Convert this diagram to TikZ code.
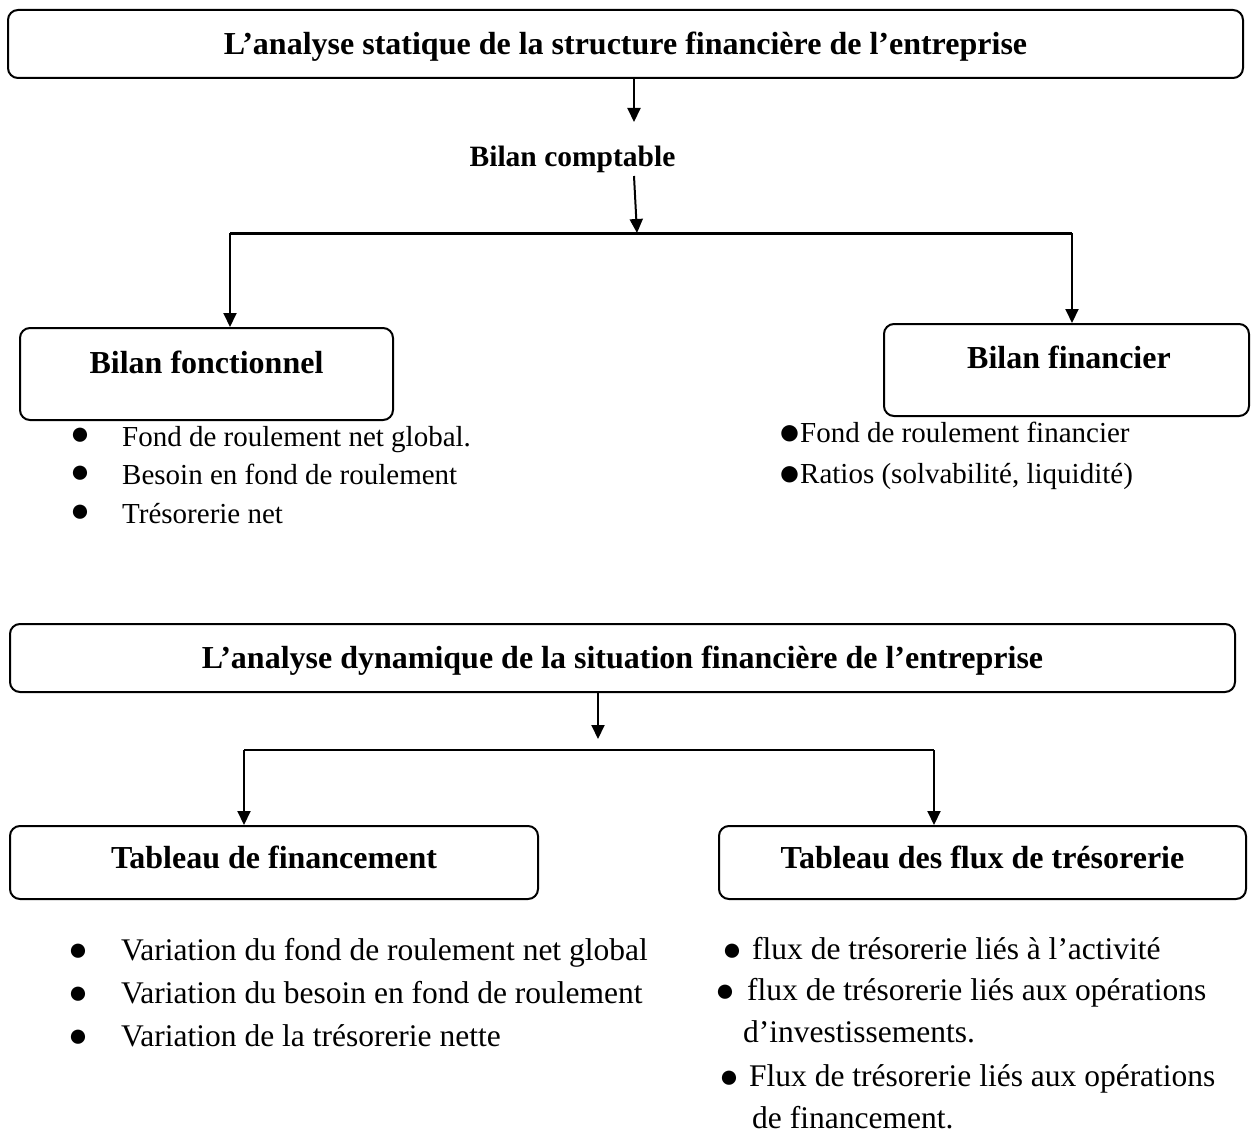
\documentclass[tikz,border=0pt]{standalone}
\usepackage{fontspec}
\setmainfont{Liberation Serif}
\usetikzlibrary{arrows.meta}
\newcommand\hdfont{\fontsize{32}{38}\selectfont\bfseries}
\newcommand\bcfont{\fontsize{29.5}{35}\selectfont\bfseries}
\newcommand\smfont{\fontsize{29}{35}\selectfont}
\newcommand\mdfont{\fontsize{31.5}{38}\selectfont}
\newcommand\dotfont{\fontsize{33}{38}\selectfont}
\newcommand\bigdotfont{\fontsize{38}{44}\selectfont}
\tikzset{
  box/.style={draw, line width=2pt, rounded corners=10pt, inner sep=0pt, font=\hdfont},
  item/.style={anchor=base west, inner sep=0pt},
  dot/.style={anchor=base, inner sep=0pt, font=\dotfont},
  bigdot/.style={anchor=base, inner sep=0pt, font=\bigdotfont},
  arr/.style={line width=2pt, -{Triangle[length=14pt,width=13pt]}},
  conn/.style={line width=2pt},
}
\begin{document}
\begin{tikzpicture}[x=1pt,y=-1pt]
\useasboundingbox (0,0) rectangle (1251,1137);

% ---------- static analysis ----------
\node[box, minimum width=1235pt, minimum height=68pt, text height=22pt, text depth=0pt]
  (tA) at (625.5,44) {L’analyse statique de la structure financière de l’entreprise};
\node[anchor=base, inner sep=0pt, font=\bcfont] (bc) at (572.5,166.5) {Bilan comptable};

\coordinate (c1) at (634,122);
\coordinate (c2) at (634,176);
\coordinate (hub1) at (637,233);
\coordinate (h1L) at (230,233);
\coordinate (h1R) at (1072,233);

\node[box, minimum width=373pt, minimum height=92pt, text height=22pt, text depth=24pt]
  (bfo) at (206.5,374) {Bilan fonctionnel};
\node[box, minimum width=365pt, minimum height=92pt, text height=22pt, text depth=26pt]
  (bfi) at (1066.5,370) {\hspace*{5pt}Bilan financier};

\draw[arr] (tA.south -| c1) -- (c1);
\draw[arr] (c2) -- (hub1);
\draw[conn, line width=3pt] (h1L) -- (h1R);
\draw[arr] (h1L) -- (h1L |- bfo.north);
\draw[arr] (h1R) -- (h1R |- bfi.north);

% bullets under Bilan fonctionnel
\node[dot] (d1) at (80,444) {●};
\node[item, font=\smfont] (i1) at (122,446) {Fond de roulement net global.};
\node[dot] (d2) at (80,482.5) {●};
\node[item, font=\smfont] (i2) at (122,484.5) {Besoin en fond de roulement};
\node[dot] (d3) at (80,521) {●};
\node[item, font=\smfont] (i3) at (122,523) {Trésorerie net};

% bullets under Bilan financier
\node[bigdot] (g1) at (789.5,444) {\makebox[14pt][c]{●}};
\node[item, font=\smfont] (j1) at (800,442) {Fond de roulement financier};
\node[bigdot] (g2) at (789.5,485) {\makebox[14pt][c]{●}};
\node[item, font=\smfont] (j2) at (800,483) {Ratios (solvabilité, liquidité)};

% ---------- dynamic analysis ----------
\node[box, minimum width=1225pt, minimum height=68pt, text height=20pt, text depth=0pt]
  (tB) at (622.5,658) {L’analyse dynamique de la situation financière de l’entreprise};

\coordinate (c3) at (598,739);
\coordinate (h2L) at (244,750);
\coordinate (h2R) at (934,750);

\node[box, minimum width=528pt, minimum height=73pt, text height=22pt, text depth=11pt]
  (tf) at (274,862.5) {Tableau de financement};
\node[box, minimum width=527pt, minimum height=73pt, text height=22pt, text depth=11pt]
  (tfl) at (982.5,862.5) {Tableau des flux de trésorerie};

\draw[arr] (tB.south -| c3) -- (c3);
\draw[conn] (h2L) -- (h2R);
\draw[arr] (h2L) -- (h2L |- tf.north);
\draw[arr] (h2R) -- (h2R |- tfl.north);

% bullets under Tableau de financement
\node[dot] (e1) at (78,960) {●};
\node[item, font=\mdfont] (k1) at (121,960) {Variation du fond de roulement net global};
\node[dot] (e2) at (78,1003) {●};
\node[item, font=\mdfont] (k2) at (121,1003) {Variation du besoin en fond de roulement};
\node[dot] (e3) at (78,1046) {●};
\node[item, font=\mdfont] (k3) at (121,1046) {Variation de la trésorerie nette};

% bullets under Tableau des flux de trésorerie
\node[dot] (f1) at (732,960) {●};
\node[item, font=\mdfont] (m1) at (752,959) {flux de trésorerie liés à l’activité};
\node[dot] (f2) at (725,1001) {●};
\node[item, font=\mdfont] (m2) at (747,1000) {flux de trésorerie liés aux opérations};
\node[item, font=\mdfont] (m3) at (743,1042) {d’investissements.};
\node[dot] (f4) at (729,1087) {●};
\node[item, font=\mdfont] (m4) at (749,1086) {Flux de trésorerie liés aux opérations};
\node[item, font=\mdfont] (m5) at (752,1128) {de financement.};
\end{tikzpicture}
\end{document}
